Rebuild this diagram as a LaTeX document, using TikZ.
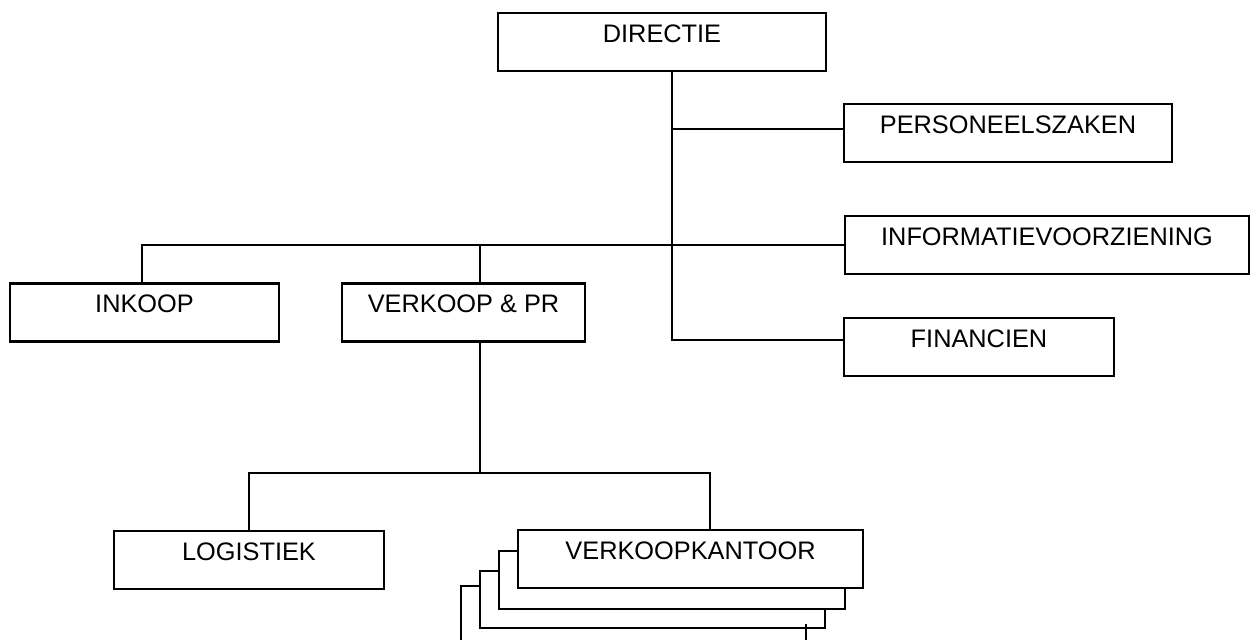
\documentclass[tikz,border=0pt]{standalone}
\usepackage{fontspec}
\setmainfont{Liberation Sans}
\begin{document}
\begin{tikzpicture}[x=0.75pt,y=-0.75pt,
  ln/.style={line width=2pt},
  box/.style={draw,ln,rectangle,inner sep=0pt,text height=21.75pt,text depth=21.75pt,
    minimum height=43.5pt,font=\fontsize{19}{22}\selectfont},
  bw/.style={minimum width=#1}]
\useasboundingbox (0,0) rectangle (1256,639);
\node[box,bw=246pt]     (D)   at (662,42)    {DIRECTIE};
\node[box,bw=246pt]     (P)   at (1008,133)  {PERSONEELSZAKEN};
\node[box,bw=303pt,minimum height=42pt] (I) at (1047,245) {INFORMATIEVOORZIENING};
\node[box,bw=201.75pt]  (INK) at (144.5,312.5) {INKOOP};
\node[box,bw=182.25pt]  (VPR) at (463.5,312.5) {VERKOOP \& PR};
\node[box,bw=202.5pt]   (FIN) at (979,347)   {FINANCIEN};
\node[box,bw=202.5pt]   (LOG) at (249,560)   {LOGISTIEK};
% stacked copies behind VERKOOPKANTOOR
\draw[ln] (518,551) -- (499,551) -- (499,609) -- (845,609) -- (845,588);
\draw[ln] (499,571) -- (480,571) -- (480,628) -- (825,628) -- (825,609);
\draw[ln] (480,586) -- (461,586) -- (461,645);
\draw[ln] (806,624) -- (806,645);
\node[box,bw=258.75pt,fill=white]  (VK)  at (690.5,559) {VERKOOPKANTOOR};
% connectors
\coordinate (t1) at (672,129);
\coordinate (t2) at (672,340);
\coordinate (h1) at (142,245);
\coordinate (v1) at (480,245);
\coordinate (h2) at (249,473);
\coordinate (v2) at (480,473);
\coordinate (h3) at (710,473);
\draw[ln] (D.south -| t1) -- (t2) -- (t2 -| FIN.west);
\draw[ln] (t1) -- (t1 -| P.west);
\draw[ln] (h1 |- INK.north) -- (h1) -- (I.west);
\draw[ln] (VPR.north -| v1) -- (v1);
\draw[ln] (VPR.south -| v2) -- (v2);
\draw[ln] (LOG.north -| h2) -- (h2) -- (h3) -- (VK.north -| h3);
\end{tikzpicture}
\end{document}
